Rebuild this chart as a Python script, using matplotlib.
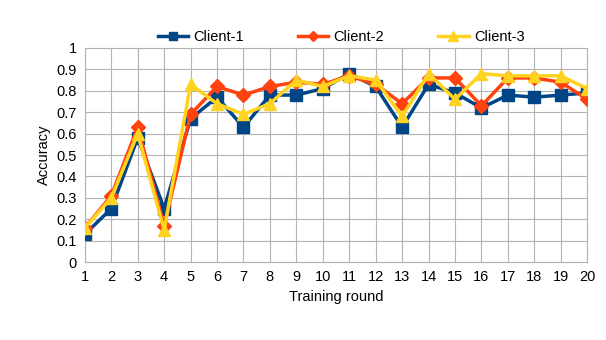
import matplotlib
matplotlib.use('Agg')
import matplotlib.pyplot as plt

plt.rcParams['font.family'] = ['Liberation Sans', 'DejaVu Sans']

rounds = list(range(1, 21))
client1 = [0.13, 0.25, 0.58, 0.25, 0.67, 0.77, 0.63, 0.78, 0.78, 0.81,
           0.88, 0.82, 0.63, 0.83, 0.79, 0.72, 0.78, 0.77, 0.78, 0.79]
client2 = [0.16, 0.31, 0.63, 0.17, 0.69, 0.82, 0.78, 0.82, 0.84, 0.83,
           0.87, 0.83, 0.74, 0.86, 0.86, 0.73, 0.86, 0.86, 0.84, 0.76]
client3 = [0.16, 0.30, 0.60, 0.15, 0.83, 0.74, 0.69, 0.74, 0.85, 0.82,
           0.87, 0.85, 0.68, 0.88, 0.76, 0.88, 0.87, 0.87, 0.87, 0.81]

fig = plt.figure(figsize=(6.06, 3.4), dpi=100)
ax = fig.add_axes([0.140, 0.229, 0.829, 0.630])

ax.plot(rounds, client1, color='#004586', marker='s', markersize=8, lw=2.5, label='Client-1', zorder=3)
ax.plot(rounds, client2, color='#ff420e', marker='D', markersize=7, lw=2.5, label='Client-2', zorder=4)
ax.plot(rounds, client3, color='#ffd320', marker='^', markersize=9, lw=2.5, label='Client-3', zorder=5)

ax.set_xlim(1, 20)
ax.set_ylim(0, 1)
ax.set_xticks(rounds)
ax.set_yticks([i / 10 for i in range(11)])
ax.set_yticklabels(['0'] + [f'0.{i}' for i in range(1, 10)] + ['1'])
ax.grid(True, color='#b3b3b3', lw=0.8)
for s in ax.spines.values():
    s.set_color('#b3b3b3')
ax.tick_params(length=0, labelsize=10.5, pad=6)
ax.set_xlabel('Training round', fontsize=10.5)
ax.set_ylabel('Accuracy', fontsize=10.5)

ax.legend(loc='lower center', bbox_to_anchor=(0.51, 0.99), ncol=3, frameon=False,
          fontsize=10.5, handlelength=2.1, handletextpad=0.35, columnspacing=3.7,
          markerscale=0.75, borderaxespad=0)

fig.savefig('out.png', dpi=100)
